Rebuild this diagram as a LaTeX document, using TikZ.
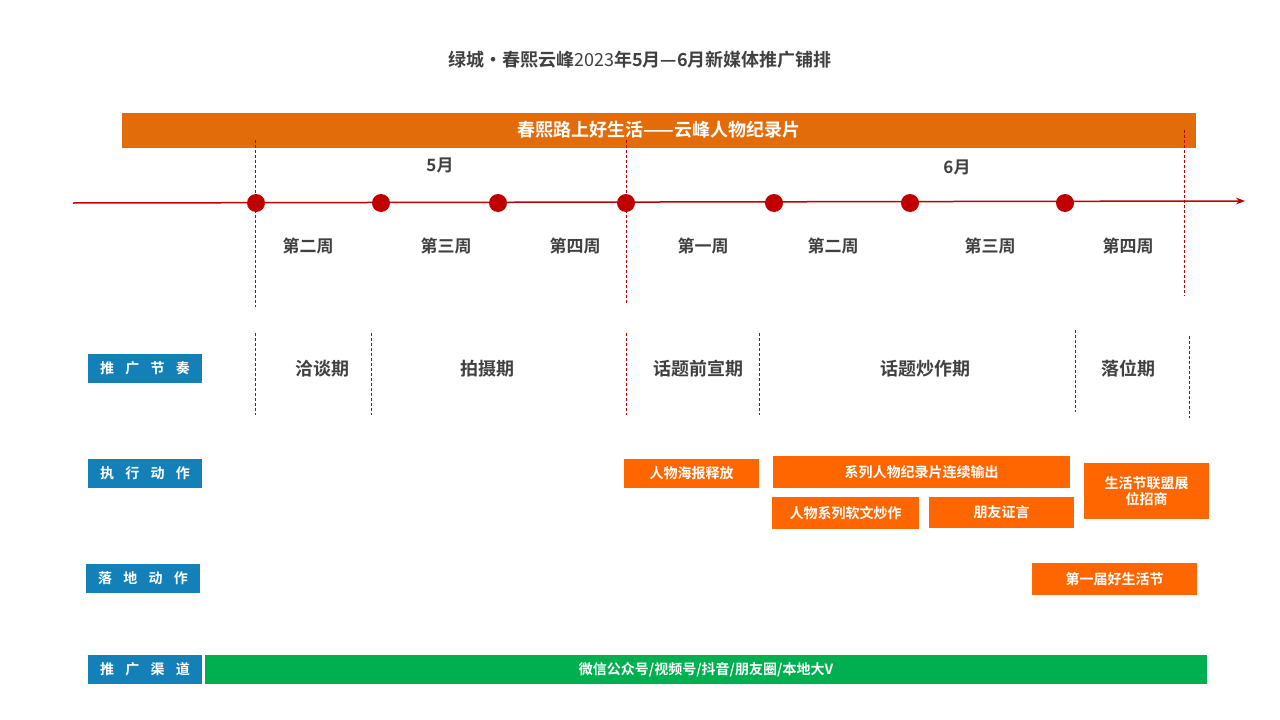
\documentclass[tikz,border=0pt]{standalone}
\usepackage{fontspec}
\usetikzlibrary{arrows.meta}
\setmainfont{Noto Sans CJK SC}[BoldFont={Noto Sans CJK SC Bold}]
\definecolor{tred}{HTML}{C00000}
\definecolor{barorange}{HTML}{E36C0A}
\definecolor{boxorange}{HTML}{FF6600}
\definecolor{lblue}{HTML}{1380B8}
\definecolor{cgreen}{HTML}{00B050}
\definecolor{tgray}{HTML}{404040}
\begin{document}
\begin{tikzpicture}[x=1pt,y=-1pt,
  dot/.style={circle,fill=tred,inner sep=0,minimum size=18pt},
  wk/.style={text=tgray,font=\bfseries\fontsize{17}{17}\selectfont},
  ph/.style={text=tgray,font=\bfseries\fontsize{18}{18}\selectfont},
  vd/.style={tred,densely dashed,line width=0.5pt},
  lab/.style={fill=lblue,text=white,font=\bfseries\fontsize{14}{14}\selectfont,inner sep=0},
  ob/.style={fill=boxorange,text=white,font=\bfseries\fontsize{14}{14}\selectfont,inner sep=0,align=center}]
\useasboundingbox (0,0) rectangle (1280,720);
\fill[white] (0,0) rectangle (1280,720);
\node[text=tgray,font=\bfseries\fontsize{18}{18}\selectfont] (title) at (640,60) {绿城·春熙云峰{\mdseries 2023}年5月—6月新媒体推广铺排};
\node[fill=barorange,minimum width=1074pt,minimum height=35pt,inner sep=0,text=white,font=\bfseries\fontsize{18}{18}\selectfont] (bar) at (659,130) {春熙路上好生活——云峰人物纪录片};
\coordinate (a0) at (73,203); \coordinate (a1) at (1245,201);
\draw[tred,line width=1.5pt,-{Stealth[length=9pt]}] (a0) -- (a1);
\foreach \x/\n in {256/d1,381/d2,498/d3,626/d4,774/d5,910/d6,1065/d7}{\node[dot] (\n) at (\x,203) {};}
\draw[vd] (255,140) -- (255,307);
\draw[vd] (626,140) -- (626,305);
\draw[vd] (1184,130) -- (1184,296);
\node[wk] (m5) at (440,165) {5月};
\node[wk] (m6) at (957,167) {6月};
\foreach \x/\t/\n in {308/第二周/w1,446/第三周/w2,575/第四周/w3,703/第一周/w4,833/第二周/w5,990/第三周/w6,1128/第四周/w7}{\node[wk] (\n) at (\x,246) {\t};}
\foreach \x/\a/\b in {255/333/415,371/333/415,626/333/415,759/333/415,1075/330/412,1189/336/418}{\draw[vd] (\x,\a) -- (\x,\b);}
\foreach \x/\t/\n in {322/洽谈期/p1,487/拍摄期/p2,698/话题前宣期/p3,925/话题炒作期/p4,1128/落位期/p5}{\node[ph] (\n) at (\x,369) {\t};}
\node[lab,minimum width=114pt,minimum height=29pt] (l1) at (145,368.5) {推\hspace{0.8em}广\hspace{0.8em}节\hspace{0.8em}奏};
\node[lab,minimum width=114pt,minimum height=29pt] (l2) at (145,473.5) {执\hspace{0.8em}行\hspace{0.8em}动\hspace{0.8em}作};
\node[lab,minimum width=114pt,minimum height=29pt] (l3) at (143,578.5) {落\hspace{0.8em}地\hspace{0.8em}动\hspace{0.8em}作};
\node[lab,minimum width=114pt,minimum height=29pt] (l4) at (145,669.5) {推\hspace{0.8em}广\hspace{0.8em}渠\hspace{0.8em}道};
\node[ob,minimum width=135pt,minimum height=29pt] (o1) at (691.5,473.5) {人物海报释放};
\node[ob,minimum width=297pt,minimum height=32pt] (o2) at (921.5,472) {系列人物纪录片连续输出};
\node[ob,minimum width=147pt,minimum height=32pt] (o3) at (845.5,513) {人物系列软文炒作};
\node[ob,minimum width=145pt,minimum height=31pt] (o4) at (1001.5,512.5) {朋友证言};
\node[ob,minimum width=125pt,minimum height=56pt] (o5) at (1146.5,491) {生活节联盟展\\[2pt]位招商};
\node[ob,minimum width=165pt,minimum height=32pt] (o6) at (1114.5,579) {第一届好生活节};
\node[fill=cgreen,minimum width=1002pt,minimum height=29pt,inner sep=0,text=white,font=\bfseries\fontsize{14}{14}\selectfont] (g) at (706,669.5) {微信公众号/视频号/抖音/朋友圈/本地大V};
\end{tikzpicture}
\end{document}
